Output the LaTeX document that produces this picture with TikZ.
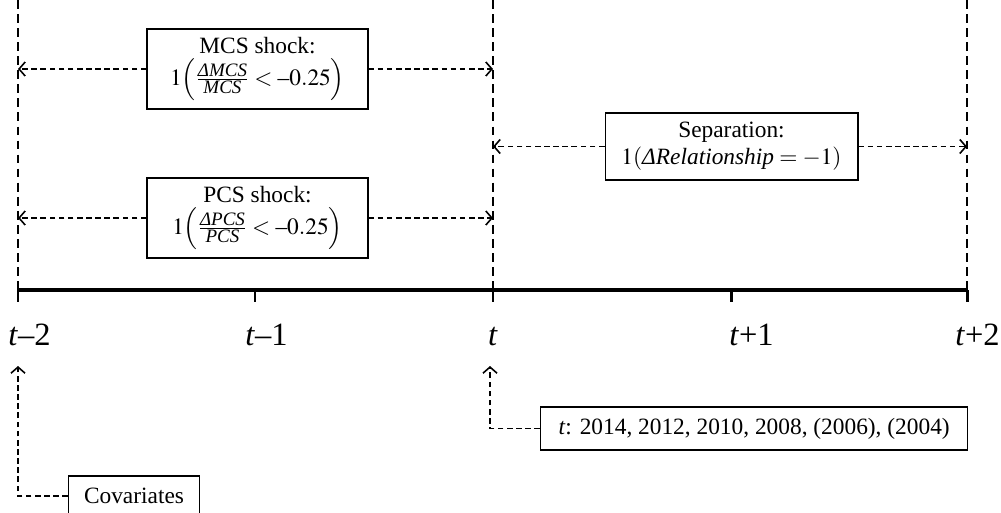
\documentclass[tikz,border=0pt]{standalone}
\usepackage{amsmath}
\usepackage{mathptmx}
\usepackage[no-math]{fontspec}
\setmainfont{Liberation Serif}
\usetikzlibrary{arrows.meta}
\usetikzlibrary{positioning}

\newcommand{\fracpart}[1]{\textit{\fontsize{10.8}{12}\selectfont #1}}

\tikzset{
	vline/.style={dash pattern=on 5pt off 3pt, line width=0.8pt},
	dashar/.style={-{Straight Barb[length=3.5pt,width=8pt,line width=0.9pt]}, dash pattern=on 3.2pt off 2pt, line width=0.9pt},
	shockbox/.style={draw, line width=0.6pt, align=center, font=\fontsize{13.3}{15.5}\selectfont},
	tlab/.style={font=\fontsize{18.5}{20}\selectfont, inner sep=0pt},
}

\begin{document}
\begin{tikzpicture}[x=0.02cm,y=-0.02cm]
			\useasboundingbox (0,0) rectangle (1001,512);
			\clip (0,0) rectangle (1001,512);
			% time points
			\coordinate (tm2) at (18,290);
			\coordinate (tm1) at (255,290);
			\coordinate (t0) at (493,290);
			\coordinate (tp1) at (731,290);
			\coordinate (tp2) at (967,290);
			\draw[vline] (18,0) -- (tm2);
			\draw[vline] (493,0) -- (t0);
			\draw[vline] (967,0) -- (tp2);
			\draw[line width=2.3pt] (tm2) -- (tp2);
			\foreach \p in {tm2,tm1,t0,tp1,tp2}
				\draw[line width=1.7pt] (\p) -- ++(0,12);
			\node[tlab, anchor=base west] (ltm2) at (8,345) {\textit{t}--2};
			\node[tlab, anchor=base west] (ltm1) at (245,345) {\textit{t}--1};
			\node[tlab, anchor=base] (lt0) at (493,345) {\textit{t}};
			\node[tlab, anchor=base west] (ltp1) at (729,345) {\textit{t}+1};
			\node[tlab, anchor=base west] (ltp2) at (955,345) {\textit{t}+2};
			% shocks
			\node[shockbox, minimum width=4.42cm, minimum height=1.6cm] (mcs) at (257.5,69) {MCS shock:\\[3pt] $1\Bigl(\frac{\fracpart{ΔMCS}}{\fracpart{MCS}} < \text{--}0.25\Bigr)$};
			\node[shockbox, minimum width=4.42cm, minimum height=1.6cm] (pcs) at (257.5,218) {PCS shock:\\[3pt] $1\Bigl(\frac{\fracpart{ΔPCS}}{\fracpart{PCS}} < \text{--}0.25\Bigr)$};
			\node[shockbox, minimum width=5.06cm, minimum height=1.34cm] (sep) at (731.5,146.5) {Separation:\\ $1(\textit{ΔRelationship} = -1)$};
			\draw[dashar] (mcs.west) -- (mcs.west -| tm2);
			\draw[dashar] (mcs.east) -- (mcs.east -| t0);
			\draw[dashar] (pcs.west) -- (pcs.west -| tm2);
			\draw[dashar] (pcs.east) -- (pcs.east -| t0);
			\draw[dashar] (sep.west) -- (sep.west -| t0);
			\draw[dashar] (sep.east) -- (sep.east -| tp2);
			% notes below
			\coordinate (covup) at (18,366);
			\coordinate (yearup) at (490,366);
			\node[shockbox, minimum width=2.62cm, minimum height=0.8cm] (cov) at (134,496) {Covariates};
			\node[shockbox, anchor=west, inner xsep=0.36cm, minimum height=0.86cm] (tyear) at (540,428.5) {\textit{t}: 2014, 2012, 2010, 2008, (2006), (2004)};
			\draw[dashar] (cov.west) -| (covup);
			\draw[dashar] (tyear.west) -| (yearup);
		\end{tikzpicture}
\end{document}
